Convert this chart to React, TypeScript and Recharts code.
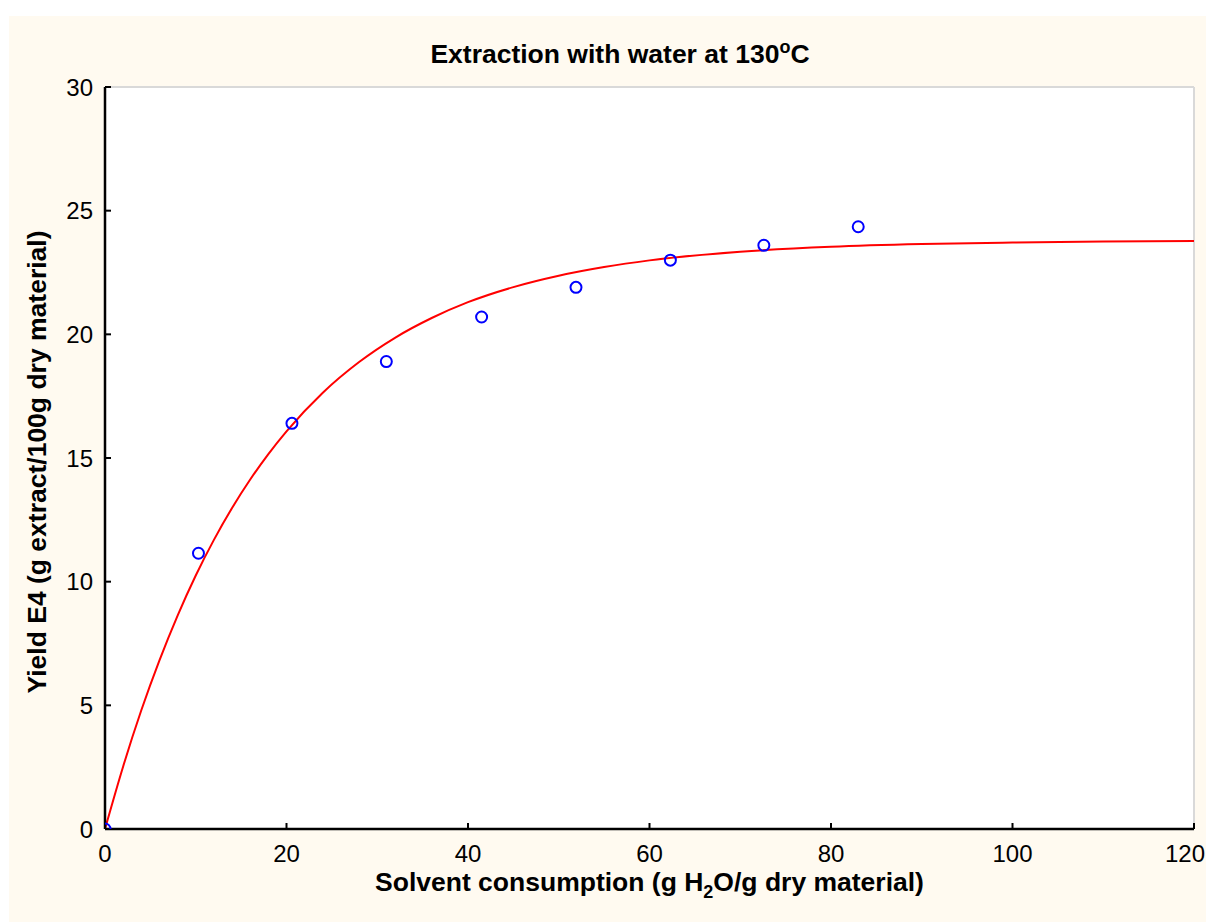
import React from 'react';
import { ComposedChart, Line, Scatter, XAxis, YAxis, CartesianGrid, Label } from 'recharts';

const xTicks = [0, 20, 40, 60, 80, 100, 120];
const yTicks = [0, 5, 10, 15, 20, 25, 30];

const measuredX = [0, 10.3, 20.6, 31.0, 41.5, 51.9, 62.3, 72.6, 83.0];
const measuredY = [0, 11.15, 16.4, 18.9, 20.7, 21.9, 23.0, 23.6, 24.35];

const fitX = [0, 2, 4, 6, 8, 10, 12, 14, 16, 18, 20, 24, 28, 32, 36, 40, 45, 50, 55, 60, 70, 80, 90, 100, 110, 120];
const fitY = [0, 2.53, 4.8, 6.82, 8.63, 10.25, 11.69, 12.98, 14.13, 15.16, 16.08, 17.64, 18.88, 19.87, 20.66, 21.3, 21.91, 22.37, 22.72, 22.99, 23.34, 23.54, 23.65, 23.71, 23.75, 23.77];

const points = measuredX.map((x, i) => ({ x, y: measuredY[i] }));
const fit = fitX.map((x, i) => ({ x, y: fitY[i] }));

const FONT = '"Liberation Sans", Arial, sans-serif';
const LABEL_SIZE = 26.5;
const TICK_SIZE = 24;

const XTick = (props: any) => {
  const { x, y, payload } = props;
  const last = payload.value === xTicks[xTicks.length - 1];
  return (
    <text
      x={last ? x + 11 : x}
      y={y}
      dy="0.71em"
      textAnchor={last ? 'end' : 'middle'}
      fontFamily={FONT}
      fontSize={TICK_SIZE}
      fill="#000"
    >
      {payload.value}
    </text>
  );
};

const XLabelContent = (props: any) => {
  const vb = props.viewBox || {};
  const cx = vb.x + vb.width / 2;
  return (
    <text x={cx} y={vb.y + 62} textAnchor="middle" fontFamily={FONT} fontWeight="bold" fontSize={LABEL_SIZE} fill="#000">
      Solvent consumption (g H
      <tspan dy={7} fontSize={18}>2</tspan>
      <tspan dy={-7}>O/g dry material)</tspan>
    </text>
  );
};

const YLabelContent = (props: any) => {
  const vb = props.viewBox || {};
  const cx = vb.x + vb.width - 68;
  const cy = vb.y + vb.height / 2 + 4;
  return (
    <text
      x={cx}
      y={cy}
      transform={`rotate(-90, ${cx}, ${cy})`}
      textAnchor="middle"
      dominantBaseline="central"
      fontFamily={FONT}
      fontWeight="bold"
      fontSize={LABEL_SIZE}
      fill="#000"
    >
      Yield E4 (g extract/100g dry material)
    </text>
  );
};

export default function App() {
  return (
    <div style={{ position: 'relative', marginLeft: 1, marginTop: 8, width: 1205, height: 906, background: '#FFFAF0' }}>
      <style>{'html, body { overflow: hidden; }'}</style>
      <div
        style={{
          position: 'absolute',
          left: 311,
          top: 25,
          width: 600,
          textAlign: 'center',
          fontFamily: FONT,
          fontWeight: 'bold',
          fontSize: LABEL_SIZE,
          lineHeight: '27px',
          color: '#000',
          whiteSpace: 'nowrap',
        }}
      >
        Extraction with water at 130
        <span style={{ fontSize: 18, position: 'relative', top: -10 }}>o</span>C
      </div>
      <ComposedChart
        width={1205}
        height={906}
        margin={{ top: 71, right: 20, bottom: 53, left: 36 }}
        style={{ fontFamily: FONT, overflow: 'visible' }}
      >
        <CartesianGrid stroke="#D9D9D9" strokeWidth={2} fill="#FFFFFF" fillOpacity={1} />
        <XAxis
          xAxisId="b"
          type="number"
          dataKey="x"
          domain={[0, 120]}
          ticks={xTicks}
          orientation="bottom"
          height={40}
          allowDataOverflow
          axisLine={{ stroke: '#000', strokeWidth: 2.5 }}
          tickLine={{ stroke: '#000', strokeWidth: 2 }}
          tickSize={-6}
          tickMargin={22}
          tick={<XTick />}
        >
          <Label content={<XLabelContent />} />
        </XAxis>
        <XAxis
          xAxisId="t"
          type="number"
          dataKey="x"
          domain={[0, 120]}
          ticks={xTicks}
          orientation="top"
          height={0}
          axisLine={{ stroke: '#000', strokeWidth: 2.5 }}
          tickLine={{ stroke: '#000', strokeWidth: 2 }}
          tickSize={-6}
          tick={false}
        />
        <YAxis
          yAxisId="l"
          type="number"
          domain={[0, 30]}
          ticks={yTicks}
          orientation="left"
          width={60}
          allowDataOverflow
          axisLine={{ stroke: '#000', strokeWidth: 2.5 }}
          tickLine={{ stroke: '#000', strokeWidth: 2 }}
          tickSize={-6}
          tickMargin={18}
          tick={{ fill: '#000', fontSize: TICK_SIZE, fontFamily: FONT }}
        >
          <Label content={<YLabelContent />} />
        </YAxis>
        <YAxis
          yAxisId="r"
          type="number"
          domain={[0, 30]}
          ticks={yTicks}
          orientation="right"
          width={0}
          axisLine={{ stroke: '#000', strokeWidth: 2.5 }}
          tickLine={{ stroke: '#000', strokeWidth: 2 }}
          tickSize={-6}
          tick={false}
        />
        <Line
          xAxisId="b"
          yAxisId="l"
          data={fit}
          dataKey="y"
          type="monotone"
          stroke="#FF0000"
          strokeWidth={2}
          dot={false}
          activeDot={false}
          isAnimationActive={false}
        />
        <Scatter
          xAxisId="b"
          yAxisId="l"
          data={points}
          dataKey="y"
          fill="none"
          stroke="#0000FF"
          strokeWidth={2}
          shape={(p: any) => <circle cx={p.cx} cy={p.cy} r={5.5} fill="none" stroke="#0000FF" strokeWidth={2} />}
          isAnimationActive={false}
        />
      </ComposedChart>
    </div>
  );
}
